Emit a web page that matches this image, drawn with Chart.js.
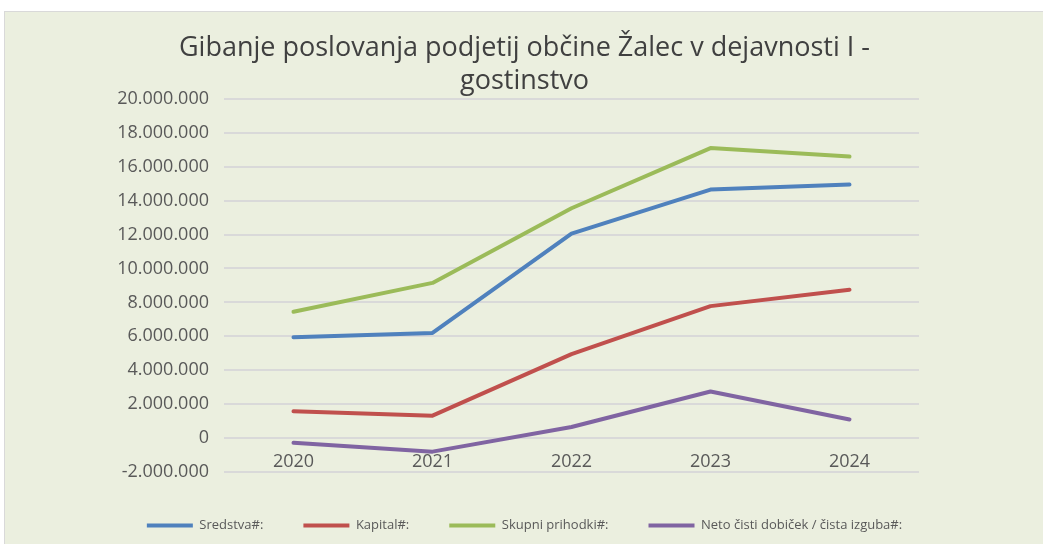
<!DOCTYPE html>
<html>
<head>
<meta charset="utf-8">
<script src="https://cdn.jsdelivr.net/npm/chart.js@4.4.1/dist/chart.umd.min.js"></script>
<style>
  html, body { margin: 0; padding: 0; background: #ffffff; overflow: hidden; }
  #panel {
    position: absolute; left: 4px; top: 11px;
    width: 1045px; height: 540px;
    background: #ebefdf; border: 1px solid #d9d9d9;
  }
  #wrap { position: absolute; left: 0; top: 0; width: 1039px; height: 532px; }
</style>
</head>
<body>
<div id="panel"><div id="wrap"><canvas id="chart"></canvas></div></div>
<script>
  // Data
  const years = ['2020', '2021', '2022', '2023', '2024'];
  const sredstva = [5950000, 6200000, 12050000, 14650000, 14950000];
  const kapital = [1580000, 1320000, 4950000, 7780000, 8750000];
  const prihodki = [7450000, 9150000, 13550000, 17100000, 16600000];
  const neto = [-280000, -800000, 650000, 2750000, 1100000];
  const seriesNames = ['Sredstva#:', 'Kapital#:', 'Skupni prihodki#:', 'Neto čisti dobiček / čista izguba#:'];
  const titleLines = ['Gibanje poslovanja podjetij občine Žalec v dejavnosti I -', 'gostinstvo'];

  const colors = ['#4f81bd', '#c0504d', '#9bbb59', '#8064a2'];
  const values = [sredstva, kapital, prihodki, neto];

  const fmt = v => {
    const s = Math.abs(v).toString().replace(/\B(?=(\d{3})+(?!\d))/g, '.');
    return (v < 0 ? '-' : '') + s;
  };

  const ctx = document.getElementById('chart').getContext('2d');

  new Chart(ctx, {
    type: 'line',
    data: {
      labels: years,
      datasets: values.map((vals, i) => ({
        label: seriesNames[i],
        data: vals,
        borderColor: colors[i],
        backgroundColor: colors[i],
        borderWidth: 4,
        pointRadius: 0,
        pointHoverRadius: 0,
        tension: 0,
        borderCapStyle: 'round',
        borderJoinStyle: 'round',
        fill: false
      }))
    },
    options: {
      responsive: true,
      maintainAspectRatio: false,
      animation: false,
      layout: { padding: { left: 0, right: 0, top: 0, bottom: 2 } },
      plugins: {
        title: {
          display: true,
          text: titleLines,
          color: '#404040',
          font: { family: 'Open Sans', size: 27, weight: 'normal', lineHeight: 1.22 },
          padding: { top: 20, bottom: 1 }
        },
        legend: {
          position: 'bottom',
          labels: {
            color: '#595959',
            font: { family: 'Open Sans', size: 13 },
            boxWidth: 46,
            boxHeight: 4,
            padding: 40,
            generateLabels: chart => Chart.defaults.plugins.legend.labels.generateLabels(chart)
              .map(item => Object.assign(item, { lineWidth: 0 }))
          }
        },
        tooltip: { enabled: false }
      },
      scales: {
        x: {
          position: { y: 0 },
          offset: true,
          grid: { display: false },
          border: { display: false },
          ticks: {
            color: '#595959',
            font: { family: 'Open Sans', size: 18 },
            padding: 5
          }
        },
        y: {
          min: -2000000,
          max: 20000000,
          grid: { color: '#d9d9d9', lineWidth: 2, drawTicks: false },
          border: { display: false },
          afterFit: scale => { scale.width = 219; },
          ticks: {
            stepSize: 2000000,
            color: '#595959',
            font: { family: 'Open Sans', size: 18 },
            padding: 15,
            callback: v => fmt(v)
          }
        },
        // empty space to the right of the plot, as in the reference
        spacer: {
          type: 'linear',
          position: 'right',
          grid: { display: false },
          border: { display: false },
          ticks: { display: false },
          afterFit: scale => { scale.width = 125; }
        },
        // empty gap between the plot and the legend
        gap: {
          type: 'linear',
          position: 'bottom',
          grid: { display: false },
          border: { display: false },
          ticks: { display: false },
          afterFit: scale => { scale.height = 7; }
        }
      }
    }
  });
</script>
</body>
</html>
